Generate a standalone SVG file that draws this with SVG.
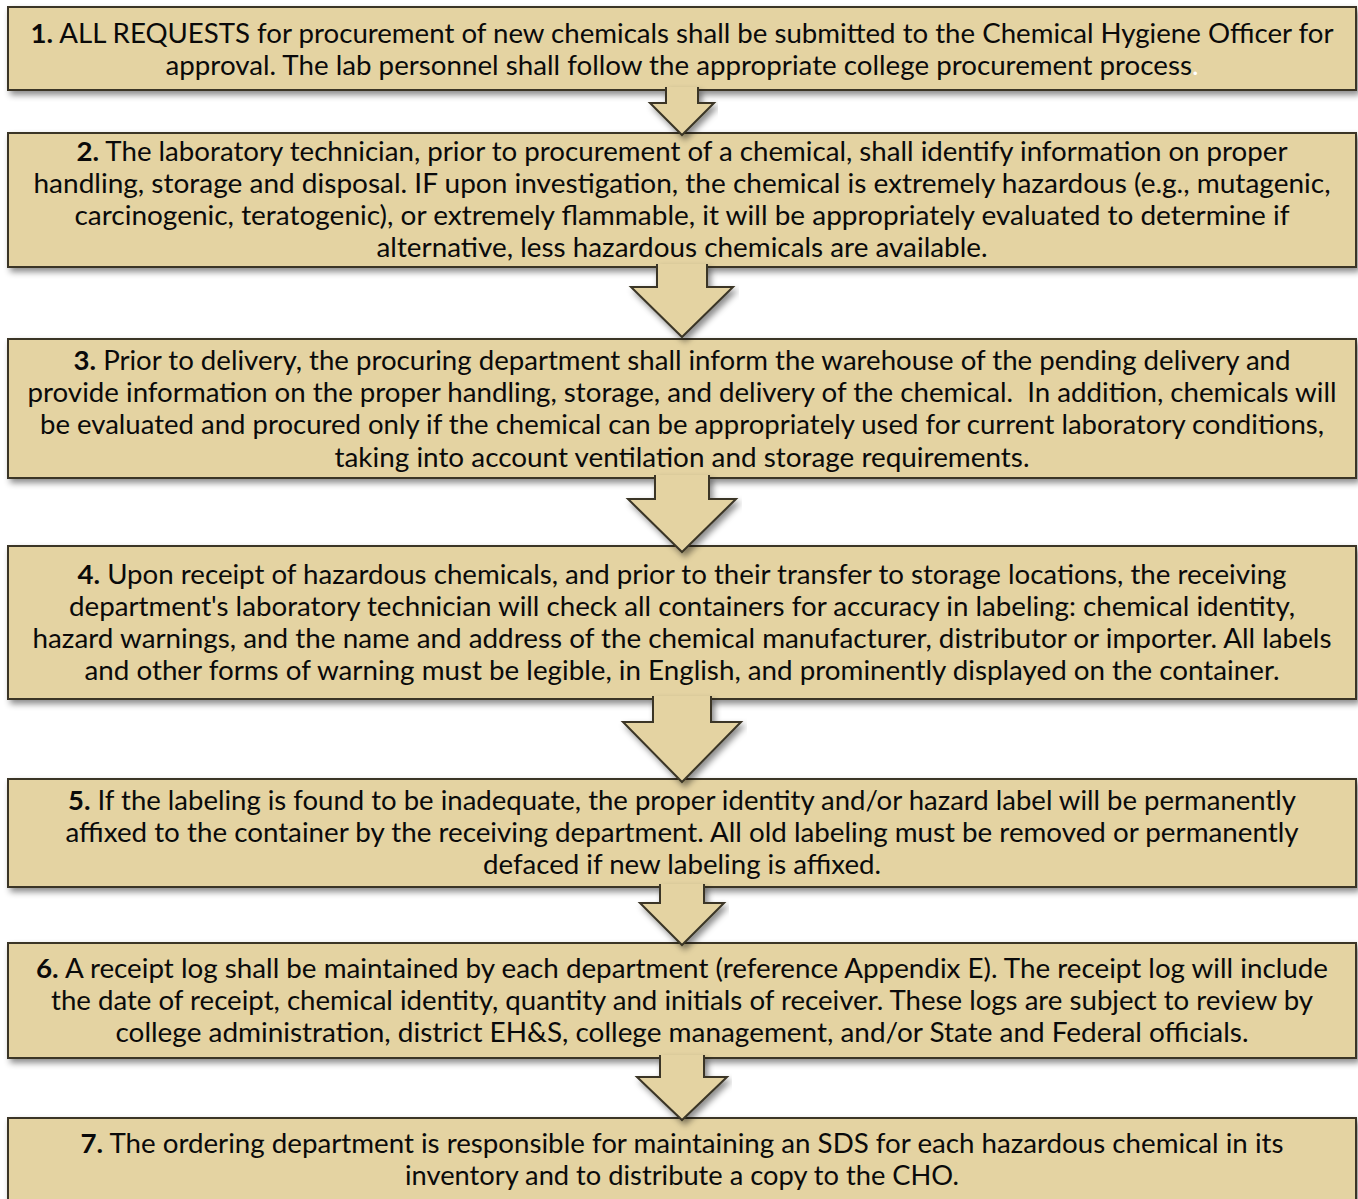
<svg xmlns="http://www.w3.org/2000/svg" width="1358" height="1199" viewBox="0 0 1358 1199">
<defs>
<filter id="sh" x="-5%" y="-20%" width="110%" height="150%">
<feDropShadow dx="3" dy="4" stdDeviation="3" flood-color="#000" flood-opacity="0.45"/>
</filter>
<style>
.box{fill:#E4D3A2;stroke:#3A3526;stroke-width:2;filter:url(#sh)}
.arr{fill:#E4D3A2;stroke:#3A3526;stroke-width:2;stroke-linejoin:miter;filter:url(#sh)}
text{font-family:Lato,"Open Sans","Liberation Sans",sans-serif;font-size:27px;fill:#0a0a0a;text-anchor:middle}
.n{font-weight:700}
</style>
</defs>
<rect width="1358" height="1199" fill="#fff"/>
<g id="node1">
<rect class="box" x="8" y="7" width="1348" height="83"/>
<text x="682" y="43" textLength="1303" lengthAdjust="spacingAndGlyphs"><tspan class="n">1.</tspan> ALL REQUESTS for procurement of new chemicals shall be submitted to the Chemical Hygiene Officer for</text>
<text x="682" y="75" textLength="1033" lengthAdjust="spacingAndGlyphs">approval. The lab personnel shall follow the appropriate college procurement process<tspan fill="#fff">.</tspan></text>
</g>
<g id="node2">
<rect class="box" x="8" y="133" width="1348" height="134"/>
<text x="682" y="161" textLength="1211" lengthAdjust="spacingAndGlyphs"><tspan class="n">2.</tspan> The laboratory technician, prior to procurement of a chemical, shall identify information on proper</text>
<text x="682" y="193" textLength="1297" lengthAdjust="spacingAndGlyphs">handling, storage and disposal. IF upon investigation, the chemical is extremely hazardous (e.g., mutagenic,</text>
<text x="682" y="225" textLength="1215" lengthAdjust="spacingAndGlyphs">carcinogenic, teratogenic), or extremely flammable, it will be appropriately evaluated to determine if</text>
<text x="682" y="257" textLength="611" lengthAdjust="spacingAndGlyphs">alternative, less hazardous chemicals are available.</text>
</g>
<g id="node3">
<rect class="box" x="8" y="339" width="1348" height="139"/>
<text x="682" y="370" textLength="1217" lengthAdjust="spacingAndGlyphs"><tspan class="n">3.</tspan> Prior to delivery, the procuring department shall inform the warehouse of the pending delivery and</text>
<text x="682" y="402" textLength="1309" lengthAdjust="spacingAndGlyphs" xml:space="preserve">provide information on the proper handling, storage, and delivery of the chemical.  In addition, chemicals will</text>
<text x="682" y="434" textLength="1284" lengthAdjust="spacingAndGlyphs">be evaluated and procured only if the chemical can be appropriately used for current laboratory conditions,</text>
<text x="682" y="467" textLength="695" lengthAdjust="spacingAndGlyphs">taking into account ventilation and storage requirements.</text>
</g>
<g id="node4">
<rect class="box" x="8" y="546" width="1348" height="153"/>
<text x="682" y="584" textLength="1209" lengthAdjust="spacingAndGlyphs"><tspan class="n">4.</tspan> Upon receipt of hazardous chemicals, and prior to their transfer to storage locations, the receiving</text>
<text x="682" y="616" textLength="1226" lengthAdjust="spacingAndGlyphs">department's laboratory technician will check all containers for accuracy in labeling: chemical identity,</text>
<text x="682" y="648" textLength="1299" lengthAdjust="spacingAndGlyphs">hazard warnings, and the name and address of the chemical manufacturer, distributor or importer. All labels</text>
<text x="682" y="680" textLength="1195" lengthAdjust="spacingAndGlyphs">and other forms of warning must be legible, in English, and prominently displayed on the container.</text>
</g>
<g id="node5">
<rect class="box" x="8" y="779" width="1348" height="108"/>
<text x="682" y="810" textLength="1228" lengthAdjust="spacingAndGlyphs"><tspan class="n">5.</tspan> If the labeling is found to be inadequate, the proper identity and/or hazard label will be permanently</text>
<text x="682" y="842" textLength="1233" lengthAdjust="spacingAndGlyphs">affixed to the container by the receiving department. All old labeling must be removed or permanently</text>
<text x="682" y="874" textLength="398" lengthAdjust="spacingAndGlyphs">defaced if new labeling is affixed.</text>
</g>
<g id="node6">
<rect class="box" x="8" y="943" width="1348" height="115"/>
<text x="682" y="978" textLength="1292" lengthAdjust="spacingAndGlyphs"><tspan class="n">6.</tspan> A receipt log shall be maintained by each department (reference Appendix E). The receipt log will include</text>
<text x="682" y="1010" textLength="1262" lengthAdjust="spacingAndGlyphs">the date of receipt, chemical identity, quantity and initials of receiver. These logs are subject to review by</text>
<text x="682" y="1042" textLength="1133" lengthAdjust="spacingAndGlyphs">college administration, district EH&amp;S, college management, and/or State and Federal officials.</text>
</g>
<g id="node7">
<rect class="box" x="8" y="1118" width="1348" height="100"/>
<text x="682" y="1153" textLength="1203" lengthAdjust="spacingAndGlyphs"><tspan class="n">7.</tspan> The ordering department is responsible for maintaining an SDS for each hazardous chemical in its</text>
<text x="682" y="1185" textLength="554" lengthAdjust="spacingAndGlyphs">inventory and to distribute a copy to the CHO.</text>
</g>
<g id="connectors">
<path class="arr" d="M666,87 L666,103 L650,103 L682,135 L714,103 L698,103 L698,87"/>
<path class="arr" d="M657,264 L657,287 L631,287 L682,337 L733,287 L707,287 L707,264"/>
<path class="arr" d="M655,475 L655,499 L628,499 L682,552 L736,499 L709,499 L709,475"/>
<path class="arr" d="M653,696 L653,722 L623,722 L682,782 L741,722 L711,722 L711,696"/>
<path class="arr" d="M660,884 L660,903 L640,903 L682,945 L724,903 L704,903 L704,884"/>
<path class="arr" d="M660,1055 L660,1077 L637,1077 L682,1120 L727,1077 L704,1077 L704,1055"/>
</g>
</svg>
